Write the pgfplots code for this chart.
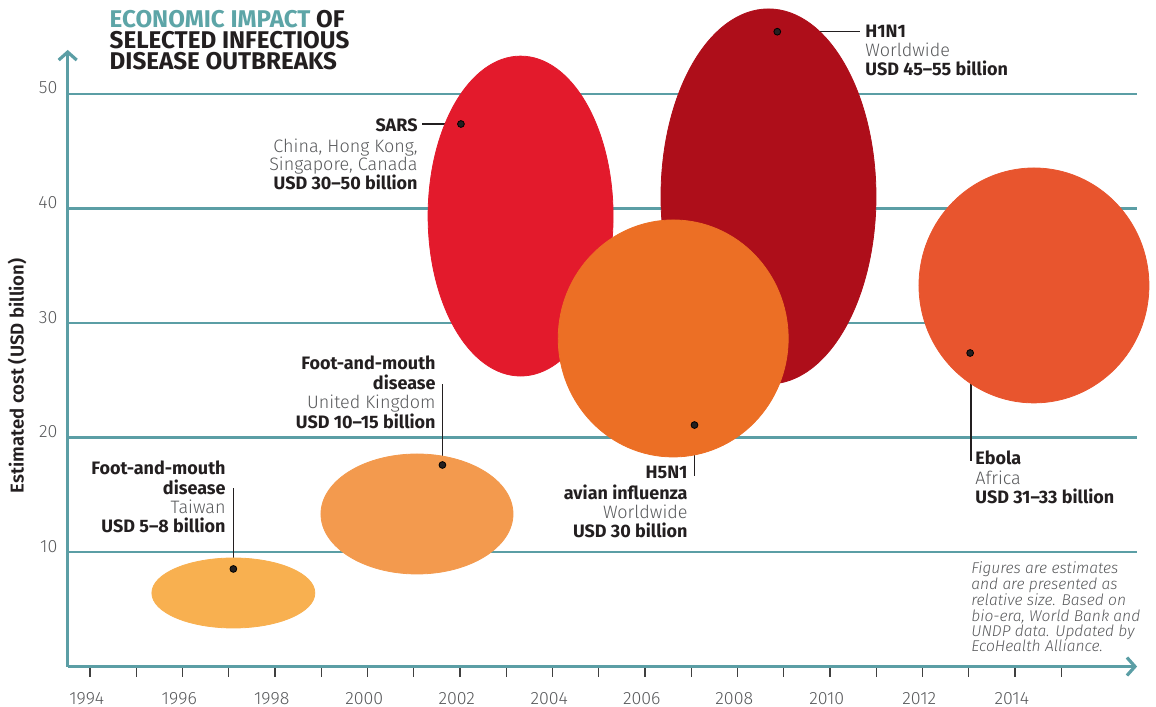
\documentclass[border=0pt]{standalone}
\usepackage{fontspec}
\setmainfont{Fira Sans}
\newfontfamily\lightfont{Fira Sans Light}
\newfontfamily\semifont{Fira Sans SemiBold}
\usepackage{pgfplots}
\pgfplotsset{compat=1.18}
\usetikzlibrary{arrows.meta}
\definecolor{axteal}{HTML}{5B9EA5}
\definecolor{titleteal}{HTML}{5DA5A7}
\definecolor{cfmdtw}{HTML}{F8B050}
\definecolor{cfmduk}{HTML}{F39A4E}
\definecolor{csars}{HTML}{E31A2C}
\definecolor{chone}{HTML}{AE0E1A}
\definecolor{chfive}{HTML}{EC6F25}
\definecolor{cebola}{HTML}{E8552E}
\definecolor{txtdark}{HTML}{231F20}
\definecolor{txtgray}{HTML}{58595B}

% bubbles: centre (year, USD bn) and half-extent in years / USD bn
\pgfplotstableread{
x y rx ry
1997.10 6.42 1.762 3.057
}\tfmdtw
\pgfplotstableread{
x y rx ry
2001.07 13.32 2.076 5.24
}\tfmduk
\pgfplotstableread{
x y rx ry
2003.31 39.34 2.00 13.97
}\tsars
\pgfplotstableread{
x y rx ry
2008.67 41.05 2.324 16.38
}\thone
\pgfplotstableread{
x y rx ry
2006.61 28.65 2.486 10.35
}\thfive
\pgfplotstableread{
x y rx ry
2014.41 33.28 2.486 10.26
}\tebola

\pgfplotsset{
 bubble/.style={
  only marks, scatter, mark=*,
  visualization depends on={\thisrow{rx}\as\myrx},
  visualization depends on={\thisrow{ry}\as\myry},
  scatter/use mapped color={draw=#1, fill=#1},
  scatter/@pre marker code/.append style={/tikz/mark size={\myry*5.725pt}, /tikz/xscale={\myrx*23.125/(\myry*5.725)}, /tikz/line width=0pt},
 },
 leader/.style={txtdark, line width=0.65pt, mark=none},
 blackdot/.style={only marks, mark=*, mark size=1.7pt, mark options={fill=txtdark, draw=none}},
}

\newcommand\fbold{\bfseries\fontsize{9}{10.8}\selectfont}
\newcommand\flight{\lightfont\fontsize{9}{10.8}\selectfont}
\newcommand\ftitle{\bfseries\fontsize{12.1}{13}\selectfont}
\newcommand\fnote{\lightfont\itshape\fontsize{7.8}{9}\selectfont}

\begin{document}
\begin{tikzpicture}
\begin{axis}[
  scale only axis,
  width=534.70pt, height=308.29pt,
  xmin=1993.518, xmax=2016.64, ymin=0, ymax=53.85,
  clip=false,
  axis lines=left,
  axis line style={axteal, line width=1.6pt},
  x axis line style={-{Straight Barb[length=4pt,width=9pt]}},
  y axis line style={-{Straight Barb[length=4pt,width=9pt]}},
  xtick={1994,1995,1996,1997,1998,1999,2000,2001,2002,2003,2004,2005,2006,2007,2008,2009,2010,2011,2012,2013,2014,2015},
  xticklabels={1994,,1996,,1998,,2000,,2002,,2004,,2006,,2008,,2010,,2012,,2014,},
  ytick={10,20,30,40,50},
  yticklabels={10,20,30,40,50},
  tick align=outside,
  major tick length=5pt,
  xtick style={draw=black!75, line width=0.6pt},
  ytick style={draw=none},
  ymajorgrids,
  grid style={axteal, line width=1.3pt},
  /pgf/number format/assume math mode=true,
  tick label style={font=\lightfont\fontsize{8.9}{10}\selectfont, text=txtgray},
  xticklabel style={anchor=base, inner sep=0pt, yshift=-13.75pt, xshift=-1.6pt},
  yticklabel style={anchor=base east, inner sep=0pt},
]
\addplot[bubble=cfmdtw] table {\tfmdtw};
\addplot[bubble=cfmduk] table {\tfmduk};
\addplot[bubble=csars] table {\tsars};
\addplot[bubble=chone] table {\thone};
\addplot[bubble=chfive] table {\thfive};
\addplot[bubble=cebola] table {\tebola};

% leader lines
\addplot[leader] coordinates {(2002.02,47.38) (2001.18,47.38)};
\addplot[leader] coordinates {(2008.88,55.44) (2010.65,55.44)};
\addplot[leader] coordinates {(2007.07,21.09) (2007.07,16.64)};
\addplot[leader] coordinates {(2013.05,27.38) (2013.05,17.95)};
\addplot[leader] coordinates {(1997.10,8.52) (1997.10,15.59)};
\addplot[leader] coordinates {(2001.62,17.60) (2001.62,24.67)};
% dots
\addplot[blackdot] coordinates {(2002.02,47.38) (2008.86,55.44) (2007.07,21.09) (2013.03,27.38) (1997.10,8.52) (2001.62,17.60)};

\coordinate (PX0) at (axis cs:1992.054,58.210);
\coordinate (BBsw) at (axis cs:1992.054,-3.450);
\coordinate (BBne) at (axis cs:2017.049,58.210);
\end{axis}

\begin{scope}[shift={(PX0)}, x=0.5pt, y=-0.5pt, every node/.style={inner sep=0pt}]
% title
\node[anchor=base west, font=\ftitle, text=txtdark] at (109.3,27.3) {\textcolor{titleteal}{ECONOMIC IMPACT} OF};
\node[anchor=base west, font=\ftitle, text=txtdark] at (109.3,48.7) {SELECTED INFECTIOUS};
\node[anchor=base west, font=\ftitle, text=txtdark] at (109.3,70) {DISEASE OUTBREAKS};
% y label
\node[rotate=90, anchor=center, font=\semifont\fontsize{9.3}{11}\selectfont, text=txtdark] at (17,376) {Estimated cost (USD billion)};
% SARS
\node[anchor=base east, font=\fbold, text=txtdark] at (418,131.7) {SARS};
\node[anchor=base east, font=\flight, text=txtgray] at (418,152.5) {China, Hong Kong,};
\node[anchor=base east, font=\flight, text=txtgray] at (418,171) {Singapore, Canada};
\node[anchor=base east, font=\fbold, text=txtdark] at (418,189.5) {USD 30–50 billion};
% H1N1
\node[anchor=base west, font=\fbold, text=txtdark] at (865,37.3) {H1N1};
\node[anchor=base west, font=\flight, text=txtgray] at (865,56.7) {Worldwide};
\node[anchor=base west, font=\fbold, text=txtdark] at (865,75.7) {USD 45–55 billion};
% H5N1
\node[anchor=base east, font=\fbold, text=txtdark] at (688,479) {H5N1};
\node[anchor=base east, font=\fbold, text=txtdark] at (688,499.3) {avian influenza};
\node[anchor=base east, font=\flight, text=txtgray] at (688,518.7) {Worldwide};
\node[anchor=base east, font=\fbold, text=txtdark] at (688,537.3) {USD 30 billion};
% Ebola
\node[anchor=base west, font=\fbold, text=txtdark] at (975,465) {Ebola};
\node[anchor=base west, font=\flight, text=txtgray] at (975,484.3) {Africa};
\node[anchor=base west, font=\fbold, text=txtdark] at (975,503.3) {USD 31–33 billion};
% FMD Taiwan
\node[anchor=base east, font=\fbold, text=txtdark] at (226,475) {Foot-and-mouth};
\node[anchor=base east, font=\fbold, text=txtdark] at (226,494.3) {disease};
\node[anchor=base east, font=\flight, text=txtgray] at (226,513.3) {Taiwan};
\node[anchor=base east, font=\fbold, text=txtdark] at (226,532.7) {USD 5–8 billion};
% FMD UK
\node[anchor=base east, font=\fbold, text=txtdark] at (436,370) {Foot-and-mouth};
\node[anchor=base east, font=\fbold, text=txtdark] at (436,389.3) {disease};
\node[anchor=base east, font=\flight, text=txtgray] at (436,408.3) {United Kingdom};
\node[anchor=base east, font=\fbold, text=txtdark] at (436,428.3) {USD 10–15 billion};
% note
\node[anchor=base west, font=\fnote, text=txtgray] at (971,574) {Figures are estimates};
\node[anchor=base west, font=\fnote, text=txtgray] at (971,590) {and are presented as};
\node[anchor=base west, font=\fnote, text=txtgray] at (971,606) {relative size. Based on};
\node[anchor=base west, font=\fnote, text=txtgray] at (971,621.5) {bio-era, World Bank and};
\node[anchor=base west, font=\fnote, text=txtgray] at (971,637) {UNDP data. Updated by};
\node[anchor=base west, font=\fnote, text=txtgray] at (971,652) {EcoHealth Alliance.};
\end{scope}

\pgfresetboundingbox
\path[use as bounding box] (BBsw) rectangle (BBne);
\end{tikzpicture}
\end{document}
